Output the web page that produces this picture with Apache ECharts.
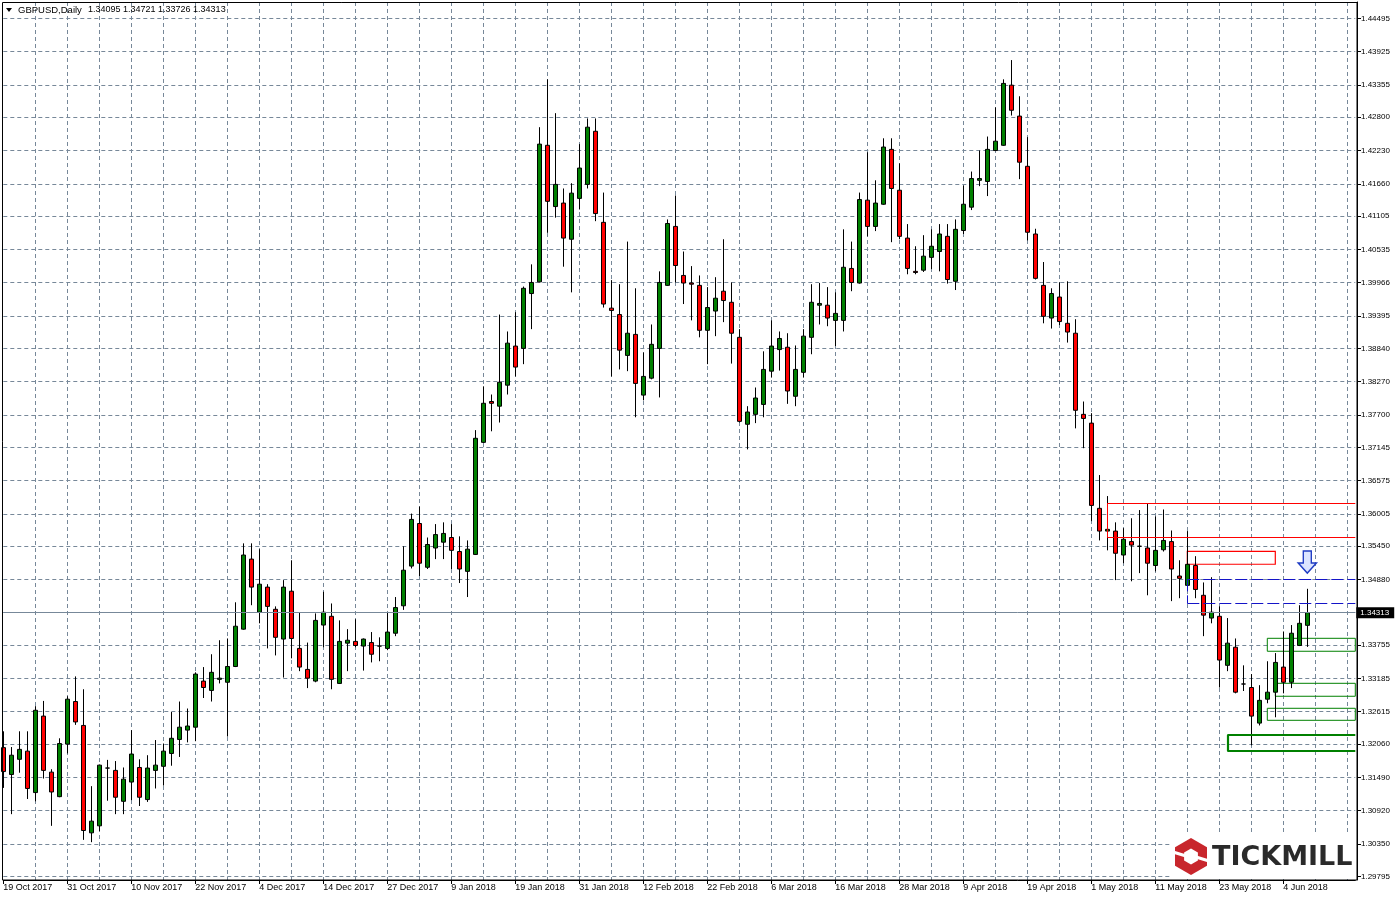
<!DOCTYPE html>
<html><head><meta charset="utf-8">
<script src="https://cdn.jsdelivr.net/npm/echarts@6/dist/echarts.min.js"></script>
<style>html,body{margin:0;padding:0;background:#fff}#c{width:1400px;height:900px}</style>
</head><body><div id="c"></div>
<script>
const symbolName = 'GBPUSD,Daily';
const headerValues = ['1.34095', '1.34721', '1.33726', '1.34313'];

const dates = [
'19 Oct 2017','20 Oct 2017','23 Oct 2017','24 Oct 2017','25 Oct 2017','26 Oct 2017','27 Oct 2017','30 Oct 2017','31 Oct 2017',
'1 Nov 2017','2 Nov 2017','3 Nov 2017','6 Nov 2017','7 Nov 2017','8 Nov 2017','9 Nov 2017','10 Nov 2017','13 Nov 2017','14 Nov 2017','15 Nov 2017','16 Nov 2017','17 Nov 2017','20 Nov 2017','21 Nov 2017','22 Nov 2017','23 Nov 2017','24 Nov 2017','27 Nov 2017','28 Nov 2017','29 Nov 2017','30 Nov 2017',
'1 Dec 2017','4 Dec 2017','5 Dec 2017','6 Dec 2017','7 Dec 2017','8 Dec 2017','11 Dec 2017','12 Dec 2017','13 Dec 2017','14 Dec 2017','15 Dec 2017','18 Dec 2017','19 Dec 2017','20 Dec 2017','21 Dec 2017','22 Dec 2017','26 Dec 2017','27 Dec 2017','28 Dec 2017','29 Dec 2017',
'2 Jan 2018','3 Jan 2018','4 Jan 2018','5 Jan 2018','8 Jan 2018','9 Jan 2018','10 Jan 2018','11 Jan 2018','12 Jan 2018','15 Jan 2018','16 Jan 2018','17 Jan 2018','18 Jan 2018','19 Jan 2018','22 Jan 2018','23 Jan 2018','24 Jan 2018','25 Jan 2018','26 Jan 2018','29 Jan 2018','30 Jan 2018','31 Jan 2018',
'1 Feb 2018','2 Feb 2018','5 Feb 2018','6 Feb 2018','7 Feb 2018','8 Feb 2018','9 Feb 2018','12 Feb 2018','13 Feb 2018','14 Feb 2018','15 Feb 2018','16 Feb 2018','19 Feb 2018','20 Feb 2018','21 Feb 2018','22 Feb 2018','23 Feb 2018','26 Feb 2018','27 Feb 2018','28 Feb 2018',
'1 Mar 2018','2 Mar 2018','5 Mar 2018','6 Mar 2018','7 Mar 2018','8 Mar 2018','9 Mar 2018','12 Mar 2018','13 Mar 2018','14 Mar 2018','15 Mar 2018','16 Mar 2018','19 Mar 2018','20 Mar 2018','21 Mar 2018','22 Mar 2018','23 Mar 2018','26 Mar 2018','27 Mar 2018','28 Mar 2018','29 Mar 2018','30 Mar 2018',
'2 Apr 2018','3 Apr 2018','4 Apr 2018','5 Apr 2018','6 Apr 2018','9 Apr 2018','10 Apr 2018','11 Apr 2018','12 Apr 2018','13 Apr 2018','16 Apr 2018','17 Apr 2018','18 Apr 2018','19 Apr 2018','20 Apr 2018','23 Apr 2018','24 Apr 2018','25 Apr 2018','26 Apr 2018','27 Apr 2018','30 Apr 2018',
'1 May 2018','2 May 2018','3 May 2018','4 May 2018','7 May 2018','8 May 2018','9 May 2018','10 May 2018','11 May 2018','14 May 2018','15 May 2018','16 May 2018','17 May 2018','18 May 2018','21 May 2018','22 May 2018','23 May 2018','24 May 2018','25 May 2018','28 May 2018','29 May 2018','30 May 2018','31 May 2018',
'1 Jun 2018','4 Jun 2018','5 Jun 2018','6 Jun 2018','7 Jun 2018'
];
const futureSlots = ['8 Jun 2018','11 Jun 2018','12 Jun 2018','13 Jun 2018','14 Jun 2018','15 Jun 2018'];

const opens = [
1.3200,1.3154,1.3180,1.3194,1.3123,1.3254,1.3158,1.3116,1.3206,1.3279,
1.3238,1.3054,1.3066,1.3165,1.3161,1.3108,1.3141,1.3166,1.3111,1.3161,
1.3168,1.3190,1.3214,1.3230,1.3235,1.3314,1.3298,1.3317,1.3312,1.3339,
1.3403,1.3523,1.3432,1.3475,1.3437,1.3386,1.3468,1.3370,1.3334,1.3314,
1.3410,1.3425,1.3310,1.3379,1.3382,1.3374,1.3380,1.3374,1.3370,1.3396,
1.3443,1.3511,1.3584,1.3509,1.3542,1.3552,1.3560,1.3536,1.3502,1.3531,
1.3723,1.3793,1.3785,1.3821,1.3888,1.3884,1.3978,1.3998,1.4232,1.4127,
1.4133,1.4071,1.4141,1.4165,1.4256,1.4100,1.3953,1.3942,1.3872,1.3908,
1.3804,1.3833,1.3884,1.3992,1.4093,1.4009,1.3996,1.3992,1.3915,1.3948,
1.3982,1.3963,1.3903,1.3754,1.3771,1.3788,1.3845,1.3882,1.3886,1.3802,
1.3843,1.3903,1.3958,1.3958,1.3932,1.3932,1.4021,1.3996,1.4138,1.4093,
1.4131,1.4225,1.4155,1.4073,1.4016,1.4018,1.4040,1.4050,1.4076,1.3999,
1.4086,1.4126,1.4172,1.4170,1.4223,1.4232,1.4335,1.4282,1.4196,1.4080,
1.3992,1.3936,1.3972,1.3927,1.3910,1.3771,1.3756,1.3610,1.3571,1.3571,
1.3530,1.3553,1.3545,1.3542,1.3512,1.3539,1.3553,1.3494,1.3478,1.3512,
1.3461,1.3422,1.3425,1.3341,1.3372,1.3309,1.3303,1.3242,1.3283,1.3295,
1.3338,1.3312,1.3375,1.34095
];
const closes = [
1.3159,1.3187,1.3197,1.3130,1.3264,1.3161,1.3124,1.3207,1.3283,1.3244,
1.3058,1.3074,1.3170,1.3165,1.3115,1.3146,1.3189,1.3115,1.3165,1.3170,
1.3194,1.3216,1.3235,1.3237,1.3326,1.3303,1.3329,1.3319,1.3339,1.3408,
1.3530,1.3475,1.3480,1.3442,1.3389,1.3475,1.3387,1.3338,1.3319,1.3418,
1.3432,1.3317,1.3382,1.3384,1.3375,1.3386,1.3360,1.3374,1.3398,1.3440,
1.3504,1.3591,1.3516,1.3548,1.3565,1.3567,1.3538,1.3506,1.3540,1.3730,
1.3790,1.3790,1.3826,1.3893,1.3852,1.3987,1.3997,1.4234,1.4136,1.4165,
1.4073,1.4150,1.4193,1.4263,1.4115,1.3960,1.3949,1.3881,1.3910,1.3824,
1.3836,1.3891,1.3997,1.4098,1.4026,1.3996,1.3994,1.3915,1.3954,1.3970,
1.3966,1.3910,1.3759,1.3775,1.3799,1.3848,1.3888,1.3901,1.3811,1.3848,
1.3905,1.3963,1.3961,1.3936,1.3944,1.4023,1.3997,1.4139,1.4093,1.4133,
1.4229,1.4158,1.4076,1.4021,1.4014,1.4042,1.4059,1.4080,1.4002,1.4088,
1.4131,1.4175,1.4175,1.4225,1.4239,1.4338,1.4292,1.4203,1.4083,1.4004,
1.3939,1.3978,1.3930,1.3912,1.3778,1.3764,1.3615,1.3571,1.3574,1.3533,
1.3557,1.3547,1.3545,1.3516,1.3538,1.3555,1.3506,1.3490,1.3514,1.3471,
1.3427,1.3432,1.3350,1.3379,1.3295,1.3309,1.3254,1.3281,1.3295,1.3346,
1.3312,1.3396,1.3413,1.34313
];
const lows = [
1.3131,1.3086,1.3157,1.3112,1.3108,1.3147,1.3066,1.3115,1.3190,1.3239,
1.3042,1.3038,1.3057,1.3109,1.3086,1.3086,1.3110,1.3100,1.3107,1.3130,
1.3135,1.3169,1.3184,1.3209,1.3211,1.3285,1.3279,1.3310,1.3219,1.3338,
1.3402,1.3444,1.3413,1.3370,1.3358,1.3320,1.3353,1.3331,1.3302,1.3312,
1.3372,1.3300,1.3309,1.3331,1.3372,1.3332,1.3346,1.3348,1.3367,1.3391,
1.3436,1.3507,1.3494,1.3506,1.3523,1.3523,1.3506,1.3482,1.3458,1.3530,
1.3722,1.3742,1.3757,1.3805,1.3836,1.3857,1.3917,1.3997,1.4082,1.4108,
1.4024,1.3980,1.4122,1.4158,1.4102,1.3954,1.3836,1.3848,1.3845,1.3766,
1.3795,1.3831,1.3800,1.3991,1.3997,1.3960,1.3932,1.3903,1.3857,1.3905,
1.3929,1.3858,1.3757,1.3711,1.3756,1.3766,1.3834,1.3846,1.3789,1.3785,
1.3834,1.3874,1.3925,1.3922,1.3888,1.3913,1.3982,1.3995,1.4076,1.4085,
1.4130,1.4066,1.4071,1.4011,1.4011,1.4015,1.4020,1.4016,1.3995,1.3984,
1.4080,1.4121,1.4162,1.4145,1.4222,1.4231,1.4283,1.4174,1.4069,1.4002,
1.3927,1.3918,1.3924,1.3894,1.3747,1.3713,1.3588,1.3555,1.3538,1.3487,
1.3516,1.3485,1.3499,1.3461,1.3502,1.3536,1.3451,1.3456,1.3475,1.3456,
1.3391,1.3413,1.3303,1.3331,1.3293,1.3297,1.3204,1.3238,1.3276,1.3252,
1.3293,1.3302,1.3374,1.33726
];
const highs = [
1.3228,1.3201,1.3228,1.3228,1.3271,1.3280,1.3163,1.3216,1.3288,1.3322,
1.3300,1.3134,1.3171,1.3179,1.3177,1.3166,1.3230,1.3180,1.3187,1.3213,
1.3207,1.3261,1.3279,1.3267,1.3329,1.3338,1.3360,1.3384,1.3387,1.3449,
1.3550,1.3550,1.3540,1.3480,1.3442,1.3487,1.3521,1.3432,1.3380,1.3430,
1.3467,1.3447,1.3418,1.3403,1.3420,1.3387,1.3398,1.3389,1.3432,1.3458,
1.3545,1.3601,1.3613,1.3560,1.3583,1.3586,1.3583,1.3562,1.3555,1.3744,
1.3819,1.3805,1.3942,1.3913,1.3946,1.3990,1.4028,1.4263,1.4345,1.4287,
1.4158,1.4167,1.4234,1.4278,1.4278,1.4151,1.4001,1.3994,1.4067,1.3987,
1.3877,1.3925,1.4016,1.4105,1.4146,1.4050,1.4025,1.4009,1.3989,1.4006,
1.4071,1.3997,1.3917,1.3785,1.3817,1.3879,1.3932,1.3913,1.3910,1.3889,
1.3917,1.3994,1.3996,1.3989,1.3980,1.4088,1.4067,1.4151,1.4220,1.4172,
1.4244,1.4244,1.4201,1.4097,1.4059,1.4078,1.4088,1.4097,1.4097,1.4105,
1.4163,1.4187,1.4223,1.4247,1.4297,1.4345,1.4378,1.4316,1.4246,1.4089,
1.4032,1.3987,1.3997,1.3999,1.3934,1.3793,1.3773,1.3667,1.3631,1.3586,
1.3576,1.3593,1.3607,1.3619,1.3596,1.3608,1.3572,1.3521,1.3571,1.3528,
1.3483,1.3492,1.3442,1.3422,1.3387,1.3341,1.3326,1.3307,1.3348,1.3362,
1.3399,1.3410,1.3444,1.34721
];

const priceLabels = [1.44495,1.43925,1.43355,1.42800,1.42230,1.41660,1.41105,1.40535,1.39966,1.39395,
  1.38840,1.38270,1.37700,1.37145,1.36575,1.36005,1.35450,1.34880,1.33755,1.33185,1.32615,1.32060,
  1.31490,1.30920,1.30350,1.29795];
const hiddenGridPrice = [1.34318];
const lastPrice = 1.34313;

const zoneStart = ['3 May 2018','17 May 2018','17 May 2018','31 May 2018','1 Jun 2018','31 May 2018','24 May 2018'];
const zoneEnd   = ['15 Jun 2018','1 Jun 2018','15 Jun 2018','15 Jun 2018','15 Jun 2018','15 Jun 2018','15 Jun 2018'];
const zoneHigh  = [1.36186,1.35364,1.34883,1.33873,1.33102,1.32674,1.32216];
const zoneLow   = [1.35604,1.35142,1.34472,1.33651,1.32880,1.32468,1.31942];
const arrowDate = '7 Jun 2018';
const arrowPrice = 1.3518;

// styling of the zones (open zones run off the right edge of the chart)
const zoneStyles = [
  {color:'#ff0000', width:1, type:'solid', open:true},
  {color:'#ff0000', width:1.2, type:'solid', open:false},
  {color:'#1414c8', width:1, type:[12,4], open:true},
  {color:'#008000', width:1, type:'solid', open:false},
  {color:'#008000', width:1, type:'solid', open:false},
  {color:'#008000', width:1, type:'solid', open:false},
  {color:'#008000', width:2.2, type:'solid', open:true}
];

const cats = dates.concat(futureSlots);
const candleData = dates.map((d, i) => [opens[i], closes[i], lows[i], highs[i]]);
const gridValues = priceLabels.concat(hiddenGridPrice).sort((a, b) => a - b);

const areaData = [];
const segData = [];
zoneStart.forEach((s, i) => {
  const st = zoneStyles[i];
  if (!st.open) {
    areaData.push([
      {xAxis: s, yAxis: zoneHigh[i], itemStyle: {color: 'rgba(0,0,0,0)', borderColor: st.color, borderWidth: st.width, borderType: st.type}},
      {xAxis: zoneEnd[i], yAxis: zoneLow[i]}
    ]);
  } else {
    const ls = {color: st.color, width: st.width, type: st.type};
    segData.push([{coord: [s, zoneHigh[i]], lineStyle: ls, label: {show: false}}, {coord: [zoneEnd[i], zoneHigh[i]]}]);
    segData.push([{coord: [s, zoneLow[i]], lineStyle: ls, label: {show: false}}, {coord: [zoneEnd[i], zoneLow[i]]}]);
    segData.push([{coord: [s, zoneHigh[i]], lineStyle: ls, label: {show: false}}, {coord: [s, zoneLow[i]]}]);
  }
});

const FONT = 'Liberation Sans, Arial, sans-serif';
const chart = echarts.init(document.getElementById('c'), null, {renderer: 'canvas'});

chart.setOption({
  animation: false,
  backgroundColor: '#ffffff',
  grid: {left: 3.3, right: 44.7, top: 2, bottom: 20, containLabel: false, outerBoundsMode: 'none'},
  xAxis: {
    type: 'category', data: cats, boundaryGap: false,
    axisLine: {show: true, lineStyle: {color: '#000', width: 1}},
    axisTick: {show: true, length: 4, interval: (i) => i % 8 === 0 && i < dates.length, lineStyle: {color: '#000'}},
    axisLabel: {
      show: true, interval: (i) => i % 8 === 0 && i < dates.length, align: 'left', margin: 3,
      color: '#000', fontSize: 9, fontFamily: FONT,
      formatter: (v, i) => (i < dates.length ? v : '')
    },
    splitLine: {show: true, interval: (i) => i % 4 === 0 && i > 0, lineStyle: {color: '#778899', width: 1, type: [4, 3]}}
  },
  yAxis: {
    type: 'value', position: 'right', offset: 1.7,
    min: 1.29732, max: 1.44775, scale: true,
    axisLine: {show: true, lineStyle: {color: '#000', width: 1}},
    axisTick: {show: true, length: 4, inside: false, customValues: gridValues, lineStyle: {color: '#000'}},
    axisLabel: {show: true, customValues: priceLabels, margin: 4, color: '#000', fontSize: 8, fontFamily: FONT,
      formatter: (v) => Number(v).toFixed(5)},
    splitLine: {show: true, lineStyle: {color: '#778899', width: 1, type: [4, 3]}}
  },
  series: [{
    type: 'candlestick',
    data: candleData,
    barWidth: 4,
    clip: true,
    itemStyle: {color: '#008000', color0: '#ff0000', borderColor: '#000', borderColor0: '#000', borderColorDoji: '#000', borderWidth: 1},
    markArea: {
      silent: true,
      label: {show: false},
      data: areaData
    },
    markLine: {
      silent: true, symbol: 'none', animation: false, precision: 5,
      lineStyle: {color: '#778899', width: 1, type: 'solid'},
      label: {show: false},
      data: [{yAxis: lastPrice, label: {show: true, position: 'end', distance: 1, formatter: lastPrice.toFixed(5),
        backgroundColor: '#000', color: '#fff', padding: [2, 5, 1, 4], fontSize: 8, fontFamily: FONT}}].concat(segData)
    },
    markPoint: {
      silent: true,
      symbol: 'path://M5,0 L13,0 L13,12 L18,12 L9,22 L0,12 L5,12 Z',
      symbolSize: [18, 22], symbolKeepAspect: false,
      itemStyle: {color: '#dbe4ff', borderColor: '#1f3cc4', borderWidth: 1.5},
      label: {show: false},
      data: [{coord: [arrowDate, arrowPrice]}]
    }
  }],
  graphic: [
    {type: 'rect', z: 50, silent: true, shape: {x: 2.5, y: 2.5, width: 1354.5, height: 877.5}, style: {fill: 'none', stroke: '#000', lineWidth: 1}},
    {type: 'polygon', z: 60, silent: true, shape: {points: [[6, 8], [12, 8], [9, 12]]}, style: {fill: '#000'}},
    {type: 'text', z: 60, silent: true, x: 18, y: 10, style: {text: symbolName, fill: '#000', font: '9.5px ' + FONT, textVerticalAlign: 'middle'}},
    {type: 'text', z: 60, silent: true, x: 88, y: 10, style: {text: headerValues.join(' '), fill: '#000', font: '9px ' + FONT, textVerticalAlign: 'middle'}},
    {type: 'rect', z: 100, silent: true, shape: {x: 1172, y: 833, width: 184, height: 46}, style: {fill: '#fff'}},
    {type: 'polygon', z: 101, silent: true, shape: {points: [[1191, 838], [1207, 847.25], [1207, 865.75], [1191, 875], [1175, 865.75], [1175, 847.25]]}, style: {fill: '#c8262c'}},
    {type: 'polygon', z: 102, silent: true, shape: {points: [[1191, 848.5], [1197.9, 852.5], [1197.9, 860.5], [1191, 864.5], [1184.1, 860.5], [1184.1, 852.5]]}, style: {fill: '#fff'}},
    {type: 'line', z: 103, silent: true, shape: {x1: 1173, y1: 852, x2: 1186, y2: 856}, style: {stroke: '#fff', lineWidth: 3}},
    {type: 'line', z: 103, silent: true, shape: {x1: 1196, y1: 857, x2: 1209, y2: 861}, style: {stroke: '#fff', lineWidth: 3}},
    {type: 'text', z: 103, silent: true, x: 1212, y: 858, style: {text: 'TICKMILL', fill: '#2a2a2a', font: 'bold 27px DejaVu Sans, sans-serif', textVerticalAlign: 'middle'}}
  ]
});
</script>
</body></html>
